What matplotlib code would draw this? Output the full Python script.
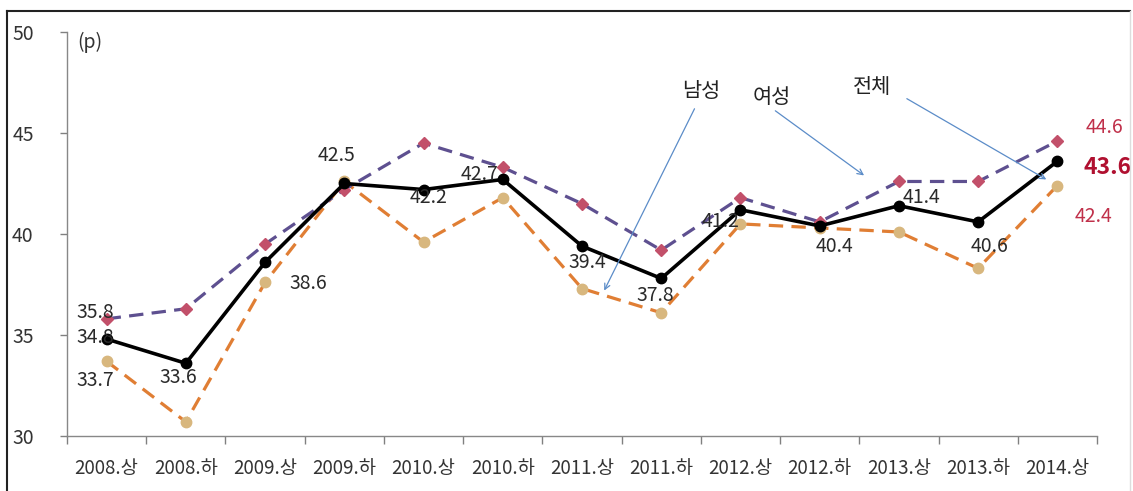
import matplotlib
matplotlib.use("Agg")
import matplotlib.pyplot as plt
from matplotlib.lines import Line2D

plt.rcParams['font.family'] = ['Noto Sans CJK KR', 'DejaVu Sans']

categories = ["2008.상", "2008.하", "2009.상", "2009.하", "2010.상", "2010.하", "2011.상",
              "2011.하", "2012.상", "2012.하", "2013.상", "2013.하", "2014.상"]
total = [34.8, 33.6, 38.6, 42.5, 42.2, 42.7, 39.4, 37.8, 41.2, 40.4, 41.4, 40.6, 43.6]
female = [35.8, 36.3, 39.5, 42.2, 44.5, 43.3, 41.5, 39.2, 41.8, 40.6, 42.6, 42.6, 44.6]
male = [33.7, 30.7, 37.6, 42.6, 39.6, 41.8, 37.3, 36.1, 40.5, 40.3, 40.1, 38.3, 42.4]
y_ticks = [30, 35, 40, 45, 50]

W, H = 1133, 491
fig = plt.figure(figsize=(W / 100, H / 100), dpi=100)
ax = fig.add_axes([67 / W, 1 - 436 / H, (1097 - 67) / W, (436 - 32) / H])

x = list(range(len(categories)))

ax.plot(x, male, color='#E07E34', lw=2.3, dashes=(4.5, 2.6), marker='o', markersize=7.5,
        markerfacecolor='#D8B77E', markeredgecolor='#D8B77E', zorder=3)
ax.plot(x, female, color='#5E5090', lw=2.3, dashes=(4.5, 2.6), marker='D', markersize=6,
        markerfacecolor='#C2506A', markeredgecolor='#C2506A', zorder=4)
ax.plot(x, total, color='black', lw=2.6, marker='o', markersize=7.5,
        markerfacecolor='black', markeredgecolor='black', zorder=5)

ax.set_xlim(-0.5, len(categories) - 0.5)
ax.set_ylim(30, 50)
ax.set_yticks(y_ticks)
ax.set_yticklabels([str(v) for v in y_ticks])
ax.set_xticks(x)
ax.set_xticklabels(categories)
ax.set_xticks([i - 0.5 for i in range(len(categories) + 1)], minor=True)

ax.tick_params(axis='x', which='major', length=0, pad=16, labelsize=13.5, labelcolor='#333333')
ax.tick_params(axis='x', which='minor', length=6, width=1, color='#808080', direction='out')
ax.tick_params(axis='y', which='major', length=5, width=1, color='#808080', pad=19,
               labelsize=14, labelcolor='#333333')
for s in ['top', 'right']:
    ax.spines[s].set_visible(False)
for s in ['left', 'bottom']:
    ax.spines[s].set_color('#888888')
    ax.spines[s].set_linewidth(1.0)

ax.text(0.01, 0.975, "(p)", transform=ax.transAxes, fontsize=14, color='#333333',
        ha='left', va='center')

lab_color = '#2A2A2A'
def lab(i, v, dx, dy, color=lab_color, size=14, weight='normal'):
    ax.annotate(f"{v}", xy=(i, v), xytext=(dx, dy), textcoords='offset pixels',
                ha='center', va='center', fontsize=size, color=color, fontweight=weight,
                zorder=6)

# data labels (offsets in pixels from the point)
lab(0, female[0], -11, 6)
lab(0, total[0], -11, 2)
lab(0, male[0], -11, -19)
lab(1, total[1], -8, -14)
lab(2, total[2], 43, -21)
lab(3, total[3], -8, 28)
lab(4, total[4], 5, -8)
lab(5, total[5], -23, 5)
lab(6, total[6], 5, -16)
lab(7, total[7], -6, -17)
lab(8, total[8], -20, -12)
lab(9, total[9], 15, -21)
lab(10, total[10], 23, 8)
lab(11, total[11], 11, -25)
lab(12, female[12], 47, 14, color='#C0304A', size=14)
lab(12, total[12], 50, -6, color='#B01030', size=16.5, weight='bold')
lab(12, male[12], 36, -31, color='#C0304A', size=14)

arrow_kw = dict(arrowstyle='->', color='#5B8CC8', lw=0.9, shrinkA=0, shrinkB=0)
ax.annotate("", xy=(6.28, 37.2), xytext=(7.42, 46.2), arrowprops=arrow_kw, zorder=7)
ax.text(7.5, 47.1, "남성", ha='center', va='center', fontsize=15, color='#222222')
ax.annotate("", xy=(9.56, 42.9), xytext=(8.44, 46.1), arrowprops=arrow_kw, zorder=7)
ax.text(8.4, 46.8, "여성", ha='center', va='center', fontsize=15, color='#222222')
ax.annotate("", xy=(11.86, 42.7), xytext=(10.1, 46.7), arrowprops=arrow_kw, zorder=7)
ax.text(9.66, 47.3, "전체", ha='center', va='center', fontsize=15, color='#222222')

# outer frame
fig.add_artist(Line2D([7 / W, 7 / W], [0, 1 - 11 / H], transform=fig.transFigure,
                      color='#222222', lw=1.5))
fig.add_artist(Line2D([7 / W, 1130 / W], [1 - 11 / H, 1 - 11 / H], transform=fig.transFigure,
                      color='#222222', lw=1.5))
fig.add_artist(Line2D([1130 / W, 1130 / W], [0, 1 - 11 / H], transform=fig.transFigure,
                      color='#DDDDDD', lw=1.0))

fig.savefig("out.png", dpi=100)
